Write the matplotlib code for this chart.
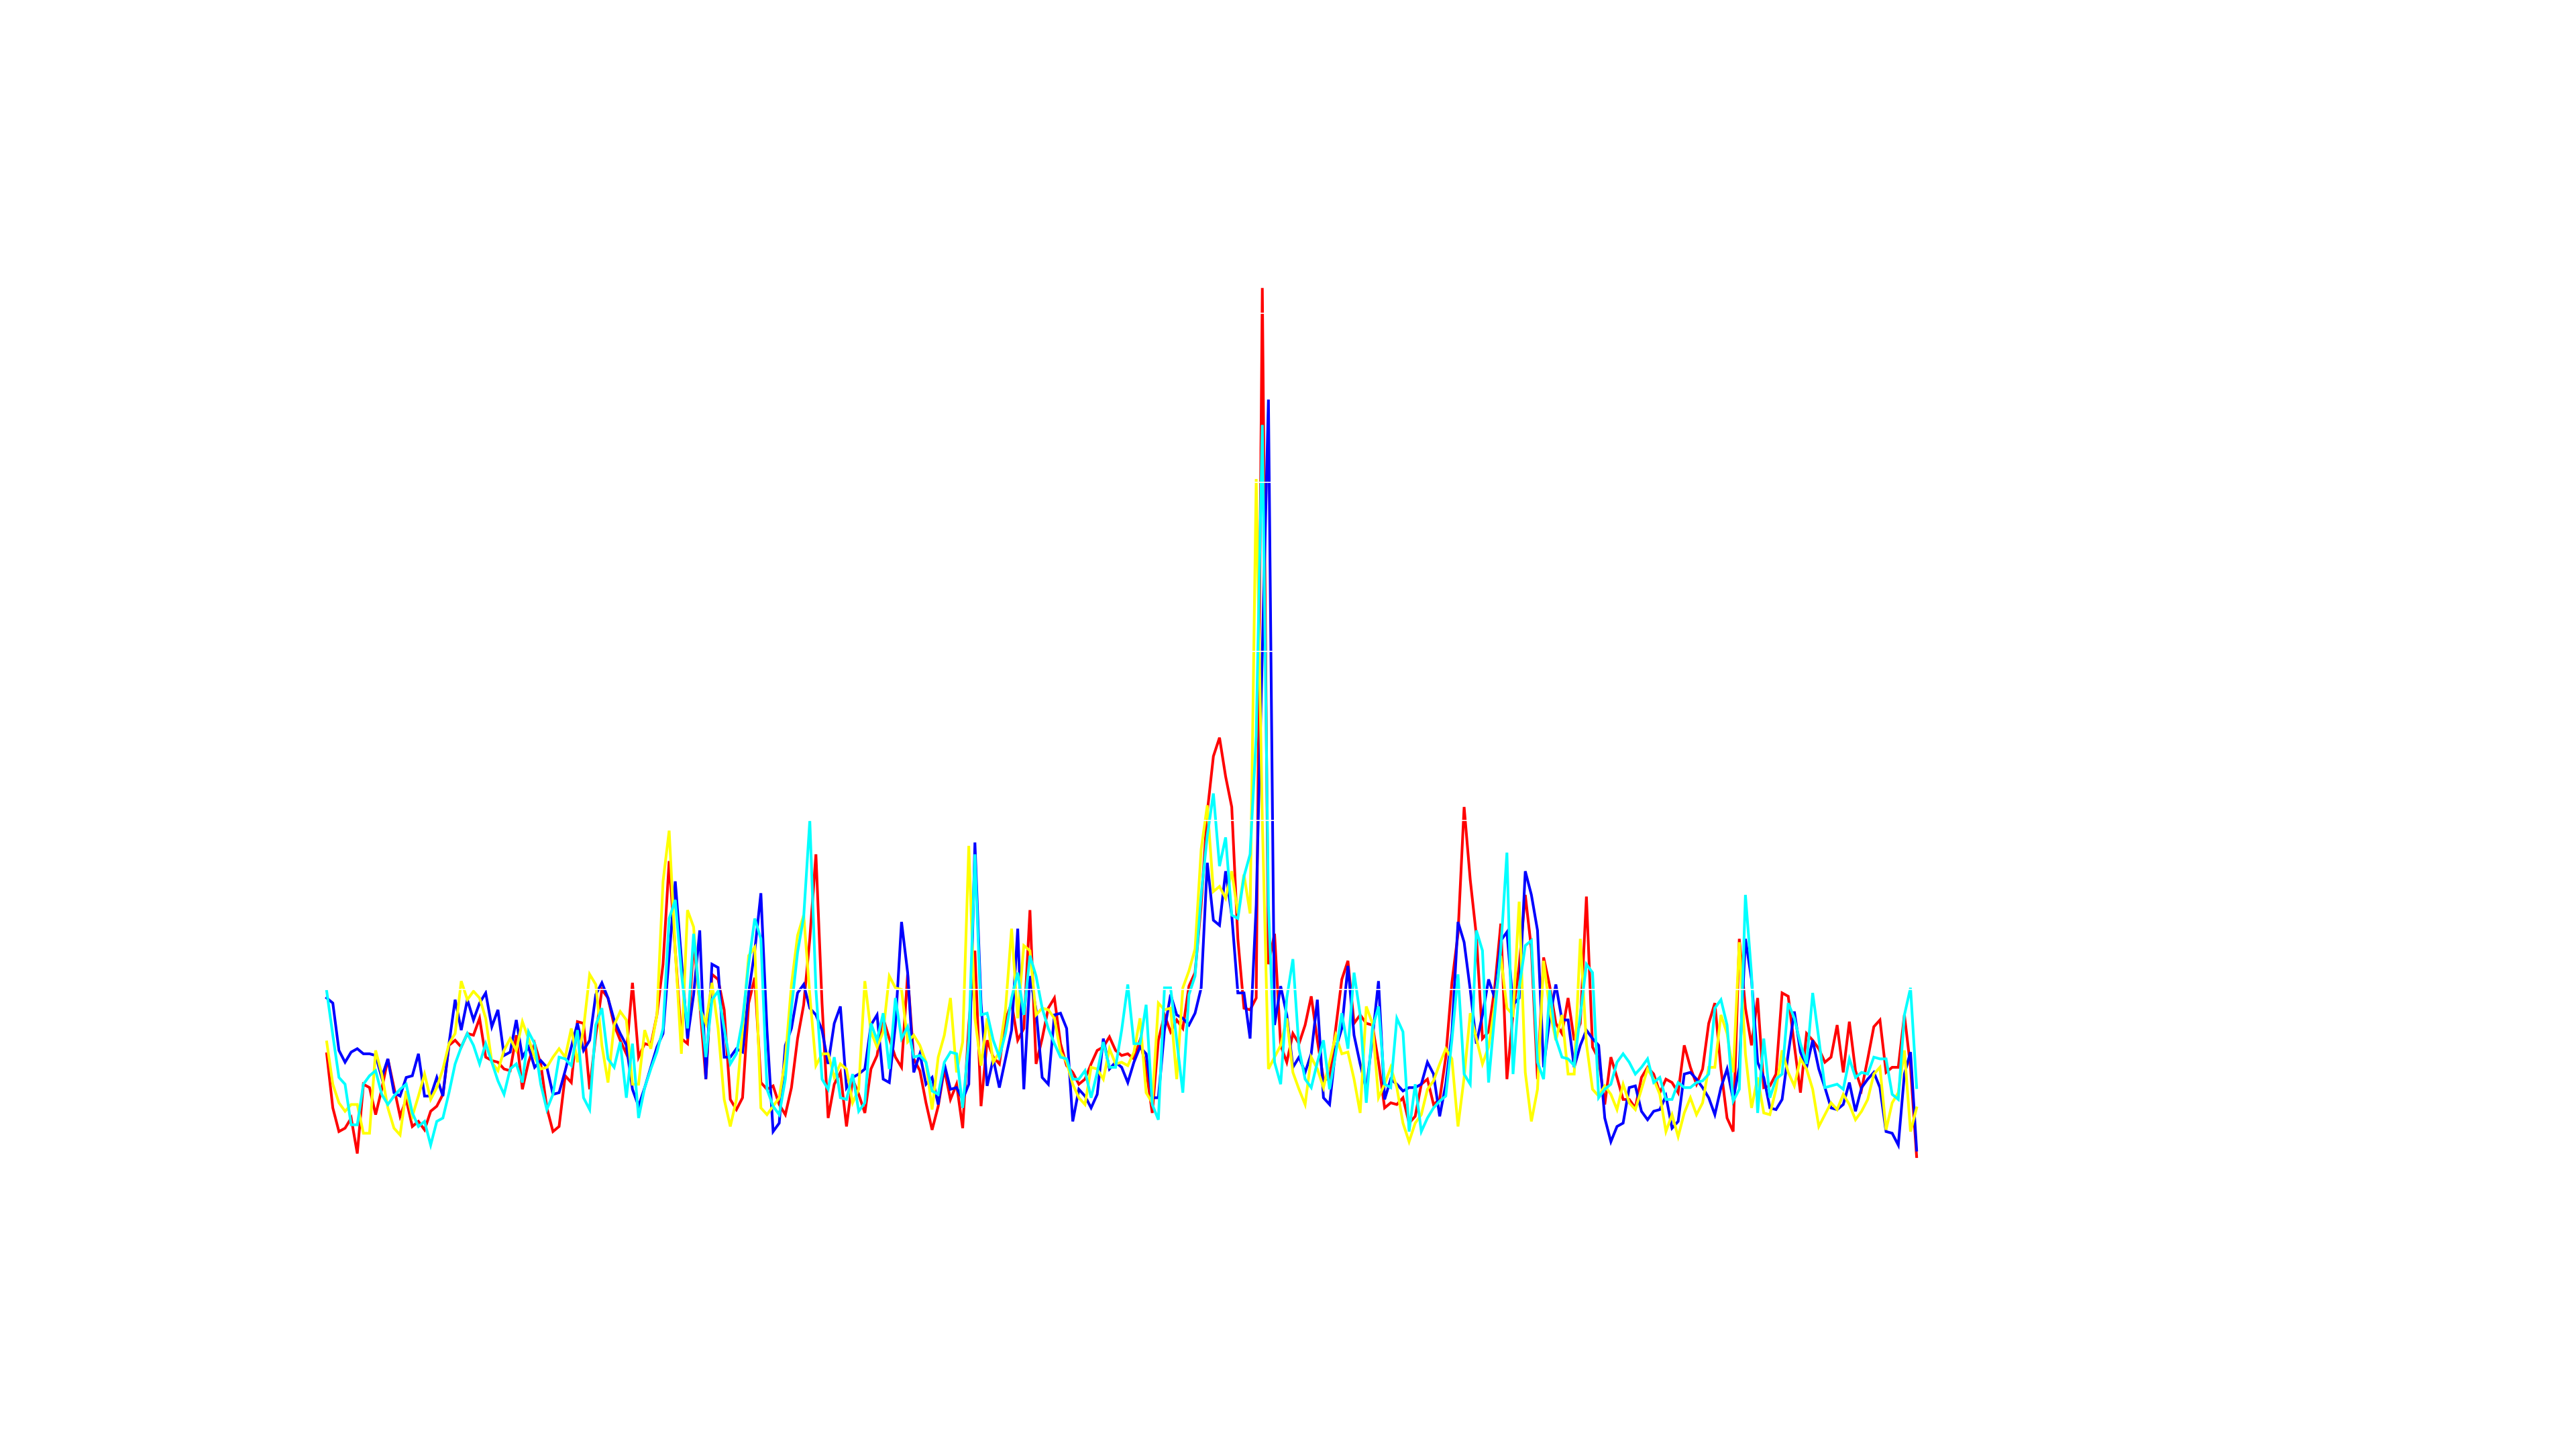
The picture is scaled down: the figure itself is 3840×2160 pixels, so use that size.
import numpy as np
import matplotlib
matplotlib.use("Agg")
import matplotlib.pyplot as plt

# ---- data (one value per sample) ----
red = [62, 30, 16, 18, 24, 3, 44, 42, 26, 41, 59, 42, 25, 35, 19, 22, 17, 28, 31, 38,
       67, 70, 66, 74, 73, 83, 60, 58, 57, 53, 52, 73, 41, 57,
       68, 56, 30, 16, 19, 49, 45, 81, 80, 41, 73, 100, 95, 79, 70, 62, 104, 60, 68, 67,
       85, 115, 176, 123, 71, 68, 128, 92, 47, 109, 106, 88, 35, 29,
       36, 92, 107, 45, 41, 43, 32, 26, 42, 71, 91, 130, 180, 92, 24, 44, 51, 19, 47, 38,
       27, 53, 61, 83, 71, 60, 54, 109, 59, 52, 33, 17, 31, 53,
       35, 44, 18, 79, 123, 31, 70, 60, 56, 82, 92, 70, 77, 147, 56, 71, 89, 95, 68, 55,
       51, 44, 47, 56, 64, 66, 72, 64, 61, 62, 59, 70, 53, 27,
       70, 85, 75, 82, 77, 102, 110, 150, 205, 238, 249, 226, 208, 130, 89, 88, 95, 515,
       115, 133, 67, 57, 74, 68, 79, 96, 70, 47, 47, 77, 106, 117, 80, 85,
       80, 79, 57, 30, 33, 32, 36, 21, 25, 44, 47, 32, 35, 60, 104, 133, 208, 165, 132, 71,
       75, 101, 139, 47, 86, 114, 156, 124, 47, 119, 102, 80, 74, 95,
       70, 80, 155, 66, 59, 32, 60, 48, 35, 35, 30, 48, 54, 50, 39, 47, 45, 39, 67, 54,
       44, 53, 80, 92, 53, 24, 16, 130, 89, 67, 95, 42, 43, 50,
       98, 96, 67, 39, 74, 70, 65, 57, 60, 79, 51, 81, 52, 41, 59, 78, 82, 51, 54, 54,
       85, 54, 1]

blue = [95, 92, 64, 57, 63, 65, 62, 62, 61, 48, 59, 39, 37, 48, 49, 62, 37, 37, 48, 37,
        68, 94, 76, 94, 82, 92, 98, 78, 88, 61, 63, 82, 60, 66,
        54, 58, 54, 38, 39, 52, 66, 80, 64, 70, 97, 104, 95, 82, 74, 67, 41, 31, 42, 54,
        66, 74, 120, 164, 118, 71, 97, 135, 47, 115, 113, 60, 60, 65,
        63, 98, 123, 157, 76, 16, 21, 67, 77, 98, 103, 89, 85, 76, 56, 80, 90, 42, 48, 50,
        53, 79, 85, 47, 45, 79, 140, 110, 51, 62, 44, 48, 32, 56,
        41, 42, 35, 44, 187, 92, 43, 59, 42, 59, 76, 136, 41, 108, 88, 48, 44, 85, 86, 77,
        22, 41, 37, 30, 38, 71, 53, 57, 54, 45, 57, 66, 62, 36,
        36, 76, 97, 85, 83, 79, 86, 101, 175, 141, 138, 170, 144, 98, 98, 71, 150, 300,
        449, 79, 102, 85, 54, 60, 51, 62, 94, 36, 32, 65, 77, 114, 73, 56,
        41, 71, 105, 35, 47, 44, 40, 42, 42, 44, 57, 50, 25, 44, 74, 140, 128, 100, 68, 85,
        106, 95, 129, 134, 91, 95, 170, 156, 135, 54, 83, 103, 82, 82,
        54, 67, 76, 71, 67, 24, 10, 19, 21, 42, 43, 28, 23, 28, 29, 37, 18, 22, 50, 51,
        47, 42, 36, 26, 42, 53, 35, 54, 130, 106, 57, 48, 30, 29,
        35, 62, 87, 63, 54, 70, 53, 42, 30, 29, 32, 45, 28, 42, 47, 51, 42, 16, 15, 8,
        50, 63, 5]

yellow = [69, 44, 33, 28, 32, 32, 15, 15, 64, 50, 30, 18, 14, 40, 25, 37, 50, 35, 42, 53,
          68, 74, 105, 94, 99, 95, 83, 57, 52, 64, 71, 64, 81, 71,
          60, 53, 54, 60, 65, 60, 77, 57, 77, 109, 103, 67, 45, 79, 87, 82, 44, 44, 76, 65,
          85, 164, 194, 123, 62, 147, 137, 89, 80, 104, 77, 35, 19, 35,
          77, 120, 125, 30, 26, 31, 36, 59, 103, 132, 144, 97, 55, 62, 62, 48, 56, 53, 33, 41,
          105, 75, 66, 75, 108, 101, 100, 69, 73, 67, 57, 29, 60, 73,
          95, 51, 69, 185, 83, 55, 83, 57, 63, 88, 136, 83, 126, 123, 85, 89, 88, 83, 63, 57,
          44, 36, 32, 54, 53, 47, 65, 56, 57, 55, 63, 83, 39, 33,
          92, 88, 89, 47, 101, 111, 124, 183, 209, 158, 161, 154, 170, 145, 168, 145, 402, 200,
          53, 60, 67, 83, 51, 41, 32, 60, 53, 42, 57, 73, 62, 63, 47, 27,
          90, 80, 36, 44, 54, 42, 21, 10, 21, 26, 41, 46, 56, 65, 59, 19, 48, 86, 71, 56,
          66, 91, 120, 89, 85, 152, 51, 22, 41, 117, 88, 70, 85, 50,
          50, 130, 68, 41, 37, 43, 38, 29, 44, 33, 29, 41, 53, 47, 38, 16, 26, 13, 27, 36,
          26, 33, 54, 54, 85, 74, 51, 128, 62, 30, 48, 27, 26, 41,
          64, 51, 43, 59, 53, 41, 19, 26, 33, 29, 38, 32, 23, 28, 35, 50, 54, 17, 33, 39,
          64, 16, 30]

cyan = [99, 73, 48, 44, 20, 20, 44, 49, 52, 38, 32, 37, 41, 44, 27, 19, 22, 8, 22, 24,
        39, 56, 66, 74, 67, 56, 68, 57, 46, 38, 53, 56, 45, 75,
        68, 44, 29, 38, 60, 59, 55, 76, 36, 29, 79, 89, 59, 54, 69, 36, 68, 24, 42, 53,
        63, 77, 142, 153, 110, 77, 133, 95, 60, 94, 99, 77, 56, 62,
        82, 115, 142, 130, 41, 31, 26, 47, 89, 122, 143, 200, 100, 47, 41, 60, 36, 35, 50, 28,
        33, 80, 70, 86, 53, 95, 71, 78, 60, 61, 57, 40, 38, 57,
        63, 62, 30, 70, 180, 85, 86, 70, 60, 74, 95, 110, 85, 120, 108, 89, 77, 68, 60, 59,
        47, 47, 52, 36, 51, 69, 54, 54, 76, 103, 68, 68, 91, 32,
        23, 101, 101, 70, 39, 97, 108, 156, 191, 216, 173, 190, 144, 142, 167, 180, 250, 434,
        150, 57, 44, 95, 118, 65, 47, 42, 57, 70, 41, 62, 86, 65, 110, 85,
        33, 77, 90, 44, 42, 83, 75, 16, 44, 16, 24, 30, 34, 37, 70, 109, 50, 44, 135, 123,
        45, 85, 124, 181, 50, 101, 126, 129, 57, 47, 100, 71, 60, 59,
        55, 85, 115, 110, 36, 41, 44, 57, 62, 57, 50, 54, 59, 45, 48, 35, 35, 45, 42, 42,
        45, 46, 50, 89, 94, 79, 34, 41, 156, 109, 27, 71, 36, 47,
        50, 92, 83, 68, 56, 98, 71, 42, 43, 44, 41, 59, 48, 51, 50, 60, 59, 59, 38, 35,
        85, 101, 42]

series = [("red", red), ("blue", blue), ("yellow", yellow), ("cyan", cyan)]
grid_values = [0, 100, 200, 300, 400, 500]

fig = plt.figure(figsize=(19.2, 10.8), dpi=200, facecolor="white")
ax = fig.add_axes([0.125, 0.11, 0.775, 0.77])
ax.set_facecolor("white")

for color, vals in series:
    x = np.arange(len(vals))
    ax.plot(x, vals, color=color, lw=1.45, solid_joinstyle="miter", zorder=2)

ax.set_xlim(-0.77, 325.7)
ax.set_ylim(-77.5, 582.5)
ax.set_yticks(grid_values)
ax.set_xticks([])
ax.yaxis.grid(True, color="white", lw=0.6)
ax.set_axisbelow(False)
ax.tick_params(length=0, labelleft=False, labelbottom=False)
for s in ax.spines.values():
    s.set_visible(False)

fig.savefig("out.png", dpi=200, facecolor="white")
